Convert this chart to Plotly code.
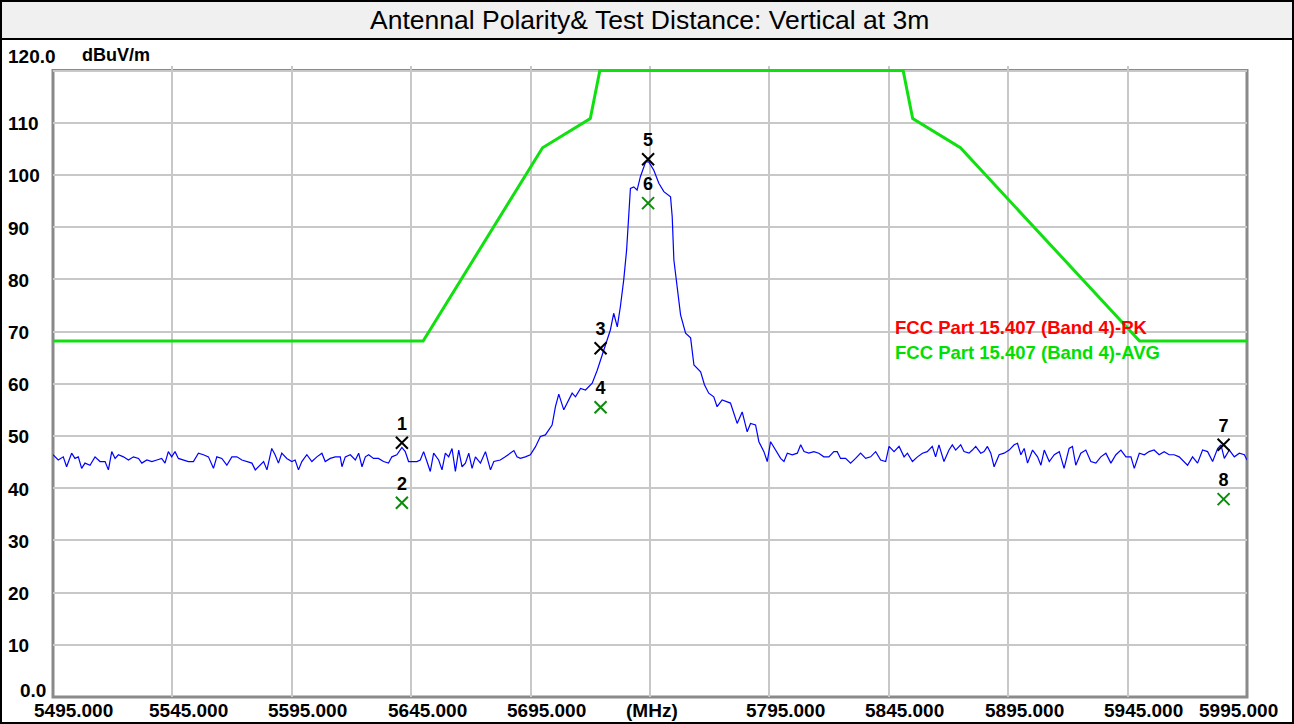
import plotly.graph_objects as go

# ---------------- data ----------------
trace_freq = [
    5495.0, 5497.2, 5499.3, 5500.7, 5502.8, 5504.2, 5505.6, 5507.0, 5508.4, 5510.5,
    5512.6, 5514.7, 5516.8, 5518.2, 5519.6, 5521.0, 5522.4, 5524.5, 5526.6, 5528.7,
    5530.8, 5532.2, 5534.3, 5536.4, 5538.5, 5540.5, 5541.9, 5543.3, 5544.7, 5546.1,
    5547.5, 5549.6, 5551.7, 5553.8, 5555.9, 5558.0, 5560.1, 5562.2, 5563.6, 5565.7,
    5567.8, 5569.9, 5572.0, 5574.1, 5576.2, 5578.3, 5579.7, 5581.8, 5583.2, 5584.6,
    5586.6, 5588.0, 5589.4, 5590.8, 5592.9, 5595.0, 5596.4, 5597.8, 5599.2, 5601.3,
    5603.4, 5605.5, 5607.6, 5609.0, 5611.1, 5613.2, 5615.3, 5616.0, 5617.4, 5619.5,
    5621.6, 5623.0, 5624.4, 5625.8, 5627.2, 5629.2, 5631.3, 5633.4, 5635.5, 5636.9,
    5639.0, 5641.1, 5642.5, 5643.9, 5645.3, 5647.4, 5648.8, 5650.2, 5651.6, 5653.0,
    5654.4, 5656.5, 5657.9, 5659.3, 5660.7, 5662.1, 5663.5, 5664.9, 5666.3, 5667.7,
    5669.1, 5670.5, 5671.9, 5674.0, 5676.1, 5678.2, 5679.6, 5682.3, 5684.4, 5686.5,
    5688.0, 5689.3, 5690.7, 5692.8, 5694.9, 5697.0, 5699.1, 5701.2, 5704.0, 5705.4,
    5706.8, 5708.9, 5711.0, 5712.4, 5713.8, 5715.9, 5718.0, 5720.8, 5722.9, 5725.0,
    5727.1, 5728.4, 5729.8, 5731.3, 5732.6, 5734.0, 5735.2, 5736.1, 5736.8, 5738.2,
    5739.6, 5741.0, 5743.2, 5744.5, 5746.6, 5748.7, 5750.8, 5753.6, 5754.3, 5755.0,
    5756.0, 5757.8, 5759.9, 5762.0, 5763.4, 5766.2, 5767.8, 5769.6, 5771.7, 5773.1,
    5775.2, 5778.7, 5781.5, 5783.6, 5785.7, 5787.1, 5789.2, 5790.6, 5792.7, 5794.1,
    5795.5, 5797.6, 5799.7, 5801.1, 5802.5, 5804.6, 5806.7, 5808.1, 5809.5, 5811.5,
    5813.6, 5815.7, 5817.8, 5819.9, 5822.0, 5823.4, 5824.8, 5826.9, 5829.0, 5831.1,
    5833.2, 5835.3, 5837.4, 5839.5, 5841.6, 5843.7, 5845.1, 5847.2, 5849.3, 5851.4,
    5852.8, 5854.9, 5857.0, 5859.1, 5861.1, 5863.2, 5864.6, 5866.0, 5868.1, 5870.2,
    5871.6, 5873.0, 5875.1, 5876.5, 5878.6, 5880.0, 5881.4, 5883.5, 5884.9, 5886.3,
    5887.7, 5889.1, 5891.2, 5893.3, 5895.4, 5897.5, 5898.9, 5900.3, 5901.7, 5903.1,
    5905.2, 5907.3, 5908.7, 5910.1, 5912.2, 5914.3, 5916.4, 5918.4, 5920.5, 5921.9,
    5923.3, 5925.4, 5927.5, 5929.6, 5931.7, 5933.8, 5935.9, 5938.0, 5940.1, 5942.2,
    5944.3, 5946.4, 5947.8, 5949.9, 5952.0, 5954.0, 5956.1, 5958.2, 5960.3, 5962.4,
    5964.5, 5966.6, 5968.7, 5970.1, 5972.2, 5974.3, 5976.4, 5978.5, 5980.6, 5982.7,
    5984.1, 5985.5, 5987.6, 5989.7, 5991.8, 5993.9, 5995.0,
]
trace_level = [
    46.4, 45.4, 46.0, 44.1, 46.7, 45.7, 46.0, 43.8, 44.8, 44.4,
    46.0, 45.1, 45.1, 43.5, 47.0, 45.7, 46.4, 46.0, 45.4, 46.0,
    45.7, 44.8, 45.4, 45.1, 45.4, 45.7, 44.8, 47.0, 46.0, 47.0,
    45.7, 45.4, 45.1, 45.1, 46.7, 46.4, 46.0, 43.8, 46.0, 45.7,
    44.4, 46.0, 46.0, 45.4, 45.1, 44.8, 43.5, 44.4, 45.1, 43.5,
    47.6, 46.4, 44.8, 46.7, 45.7, 45.1, 45.4, 43.5, 45.1, 46.4,
    45.1, 46.0, 46.7, 45.1, 45.7, 46.0, 46.0, 44.1, 46.0, 46.4,
    45.4, 46.7, 44.1, 46.0, 46.4, 45.7, 45.7, 45.1, 44.8, 46.0,
    46.4, 47.8, 47.0, 45.1, 45.1, 45.1, 45.4, 47.0, 45.1, 43.2,
    46.7, 45.4, 43.5, 46.7, 46.0, 47.6, 43.2, 47.3, 44.1, 44.8,
    46.7, 43.8, 46.0, 44.8, 47.0, 43.5, 45.1, 45.4, 46.0, 46.7,
    47.2, 46.0, 45.7, 46.0, 46.4, 47.9, 49.9, 50.2, 52.1, 55.6,
    58.0, 55.0, 56.9, 58.2, 57.5, 59.1, 58.8, 60.1, 62.6, 65.5,
    68.7, 70.3, 73.5, 70.9, 74.8, 79.9, 85.6, 92.6, 97.4, 97.7,
    97.1, 99.7, 102.5, 102.5, 100.9, 98.4, 96.8, 95.8, 92.0, 83.7,
    79.9, 73.2, 69.7, 68.8, 63.6, 62.3, 59.8, 58.2, 57.5, 55.6,
    56.9, 56.3, 52.4, 54.6, 50.8, 52.4, 52.1, 48.9, 47.0, 45.1,
    48.9, 47.3, 45.7, 45.1, 46.7, 46.4, 46.7, 48.3, 47.0, 46.7,
    47.0, 46.7, 46.0, 46.0, 47.0, 47.0, 45.7, 45.7, 44.8, 45.7,
    46.7, 45.7, 46.0, 47.0, 45.4, 45.1, 48.0, 47.0, 48.0, 46.0,
    46.7, 45.1, 46.0, 46.7, 47.0, 48.0, 46.0, 48.3, 45.1, 47.3,
    48.3, 47.3, 48.3, 47.0, 46.7, 47.3, 48.0, 46.7, 47.0, 48.0,
    46.7, 44.1, 46.4, 46.7, 47.3, 48.3, 48.6, 46.4, 47.6, 44.8,
    47.3, 46.0, 44.4, 47.3, 45.1, 46.4, 47.0, 43.8, 47.6, 48.0,
    44.4, 46.7, 47.3, 45.1, 44.8, 46.0, 46.7, 44.8, 46.4, 47.3,
    46.0, 46.0, 43.8, 46.7, 46.4, 47.0, 47.3, 46.4, 47.0, 46.4,
    46.4, 46.0, 45.1, 44.4, 46.0, 44.8, 47.3, 47.0, 45.1, 47.6,
    48.3, 45.7, 47.3, 46.0, 46.7, 46.4, 45.4,
]

limit_freq = [5495, 5650, 5700, 5720, 5724, 5851, 5855, 5875, 5950, 5995]
limit_level = [68.2, 68.2, 105.2, 110.8, 120.0, 120.0, 110.8, 105.2, 68.2, 68.2]

marker_no = ["1", "2", "3", "4", "5", "6", "7", "8"]
marker_freq = [5641.1, 5641.1, 5724.3, 5724.3, 5744.2, 5744.2, 5985.2, 5985.2]
marker_level = [48.7, 37.2, 66.8, 55.5, 103.0, 94.6, 48.3, 37.9]
marker_detector = ["PK", "AV", "PK", "AV", "PK", "AV", "PK", "AV"]

x_tick_vals = [5495, 5545, 5595, 5645, 5695, 5745, 5795, 5845, 5895, 5945, 5995]
x_tick_text = ["5495.000", "5545.000", "5595.000", "5645.000", "5695.000", "(MHz)",
               "5795.000", "5845.000", "5895.000", "5945.000", "5995.000"]
y_tick_vals = [0, 10, 20, 30, 40, 50, 60, 70, 80, 90, 100, 110, 120]
y_tick_text = ["0.0", "10", "20", "30", "40", "50", "60", "70", "80", "90", "100", "110", "120.0"]

title_text = "Antennal Polarity& Test Distance: Vertical at 3m"
unit_text = "dBuV/m"
legend_text = ["FCC Part 15.407 (Band 4)-PK", "FCC Part 15.407 (Band 4)-AVG"]
legend_color = ["#ff0000", "#00e000"]

# ---------------- layout geometry ----------------
W, H = 1294, 724
PL, PR, PT, PB = 53, 1247, 66, 697
X0, X1 = 5495, 5995
Y_TOP = 120.0
PX_PER_DB = (PB - 70.5) / Y_TOP
Y_MAX = (PB - PT) / PX_PER_DB


def px_x(px):
    return (px - PL) / (PR - PL)


def px_y(py):
    return (PB - py) / (PB - PT)


BOLD = "Arial, 'Liberation Sans', sans-serif"

fig = go.Figure()

fig.add_trace(go.Scatter(
    x=limit_freq, y=limit_level, mode="lines",
    line=dict(color="#10e010", width=3), hoverinfo="skip", showlegend=False))

fig.add_trace(go.Scatter(
    x=trace_freq, y=trace_level, mode="lines",
    line=dict(color="#0000ff", width=1.2), hoverinfo="skip", showlegend=False))

for det, col in (("PK", "#000000"), ("AV", "#0b8c0b")):
    idx = [i for i, d in enumerate(marker_detector) if d == det]
    fig.add_trace(go.Scatter(
        x=[marker_freq[i] for i in idx], y=[marker_level[i] for i in idx],
        mode="markers+text", text=[marker_no[i] for i in idx],
        textposition="top center",
        textfont=dict(family=BOLD, size=18, color="#000000", weight="bold"),
        marker=dict(symbol="x-thin", size=12, line=dict(color=col, width=2)),
        cliponaxis=False, hoverinfo="skip", showlegend=False))

shapes = [
    # outer border
    dict(type="rect", xref="paper", yref="paper", x0=px_x(1), x1=px_x(W - 1),
         y0=px_y(H - 1), y1=px_y(1), line=dict(color="#000000", width=2), layer="below"),
    # title band
    dict(type="rect", xref="paper", yref="paper", x0=px_x(1), x1=px_x(W - 1),
         y0=px_y(39), y1=px_y(1), fillcolor="#f0f0f0",
         line=dict(color="#000000", width=2), layer="below"),
    # plot frame
    dict(type="rect", xref="paper", yref="paper", x0=0, x1=1,
         y0=0, y1=Y_TOP / Y_MAX, line=dict(color="#8a8a8a", width=3), layer="between"),
]

annotations = [
    dict(text=title_text, xref="paper", yref="paper", x=px_x(649), y=px_y(20),
         xanchor="center", yanchor="middle", showarrow=False,
         font=dict(family="Arial, 'Liberation Sans', sans-serif", size=26.5, color="#000000")),
    dict(text=unit_text, xref="paper", yref="paper", x=px_x(80), y=px_y(55),
         xanchor="left", yanchor="middle", showarrow=False,
         font=dict(family=BOLD, size=18, color="#000000", weight="bold")),
]
for txt, col, ypx in zip(legend_text, legend_color, (327, 352)):
    annotations.append(dict(text=txt, xref="paper", yref="paper", x=px_x(893), y=px_y(ypx),
                            xanchor="left", yanchor="middle", showarrow=False,
                            font=dict(family=BOLD, size=18.5, color=col, weight="bold")))

n_x = len(x_tick_vals)
for i, (v, t) in enumerate(zip(x_tick_vals, x_tick_text)):
    if i == 0:
        anchor, shift = "left", -21
    elif i == n_x - 1:
        anchor, shift = "right", 33
    elif t.startswith("("):
        anchor, shift = "center", 2
    else:
        anchor, shift = "center", 16
    annotations.append(dict(text=t, xref="x", yref="paper", x=v, y=px_y(710),
                            xanchor=anchor, yanchor="middle", xshift=shift, showarrow=False,
                            font=dict(family=BOLD, size=19, color="#000000", weight="bold")))

n_y = len(y_tick_vals)
for i, (v, t) in enumerate(zip(y_tick_vals, y_tick_text)):
    if i == n_y - 1:
        yshift, xpx = 14, 6
    elif i == 0:
        yshift, xpx = 7, 18
    else:
        yshift, xpx = -1, 6
    annotations.append(dict(text=t, xref="paper", yref="y", x=px_x(xpx), y=v,
                            xanchor="left", yanchor="middle", yshift=yshift, showarrow=False,
                            font=dict(family=BOLD, size=19, color="#000000", weight="bold")))

fig.update_layout(
    width=W, height=H,
    margin=dict(l=PL, r=W - PR, t=PT, b=H - PB, pad=0),
    paper_bgcolor="#ffffff", plot_bgcolor="#ffffff",
    showlegend=False,
    shapes=shapes, annotations=annotations,
    xaxis=dict(range=[X0, X1], tickvals=x_tick_vals, showticklabels=False,
               showgrid=True, gridcolor="#c8c8c8", gridwidth=2, zeroline=False,
               showline=False, ticks="", fixedrange=True),
    yaxis=dict(range=[0, Y_MAX], tickvals=y_tick_vals, showticklabels=False,
               showgrid=True, gridcolor="#c8c8c8", gridwidth=2, zeroline=False,
               showline=False, ticks="", fixedrange=True),
)

fig.write_html("out.html", config={"displayModeBar": False},
               post_script="document.body.style.margin='0px';document.body.style.overflow='hidden';")
